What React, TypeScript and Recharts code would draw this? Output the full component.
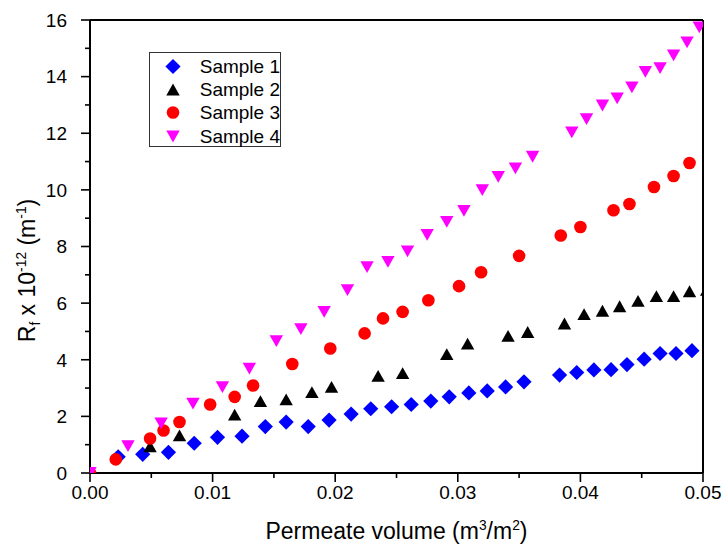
import React from 'react';
import { ScatterChart, Scatter, XAxis, YAxis, Legend } from 'recharts';

// ---------- data ----------
const s1X = [0.0023, 0.0043, 0.0064, 0.0085, 0.0104, 0.0124, 0.0143, 0.016, 0.0178, 0.0195, 0.0213, 0.0229, 0.0246, 0.0262, 0.0278, 0.0293, 0.0309, 0.0324, 0.0339, 0.0354, 0.0383, 0.0397, 0.0411, 0.0425, 0.0438, 0.0452, 0.0465, 0.0478, 0.0491];
const s1Y = [0.57, 0.66, 0.73, 1.05, 1.26, 1.3, 1.64, 1.8, 1.64, 1.87, 2.08, 2.27, 2.34, 2.42, 2.54, 2.69, 2.83, 2.9, 3.04, 3.22, 3.46, 3.55, 3.64, 3.65, 3.83, 4.02, 4.22, 4.22, 4.32];

const s2X = [0.0049, 0.0073, 0.0118, 0.0139, 0.016, 0.0181, 0.0197, 0.0235, 0.0255, 0.0291, 0.0308, 0.0341, 0.0357, 0.0387, 0.0403, 0.0418, 0.0432, 0.0447, 0.0462, 0.0476, 0.0489, 0.0503];
const s2Y = [0.94, 1.33, 2.06, 2.54, 2.6, 2.86, 3.04, 3.43, 3.53, 4.2, 4.57, 4.84, 4.98, 5.28, 5.61, 5.73, 5.89, 6.08, 6.25, 6.25, 6.42, 6.47];

const s3X = [0, 0.0021, 0.0049, 0.006, 0.0073, 0.0098, 0.0118, 0.0133, 0.0165, 0.0196, 0.0224, 0.0239, 0.0255, 0.0276, 0.0301, 0.0319, 0.035, 0.0384, 0.04, 0.0427, 0.044, 0.046, 0.0476, 0.0489];
const s3Y = [0, 0.48, 1.22, 1.5, 1.8, 2.42, 2.69, 3.09, 3.85, 4.4, 4.93, 5.46, 5.69, 6.1, 6.6, 7.09, 7.67, 8.39, 8.69, 9.28, 9.5, 10.1, 10.49, 10.95];

const s4X = [0, 0.0031, 0.0058, 0.0084, 0.0108, 0.013, 0.0152, 0.0172, 0.0191, 0.021, 0.0226, 0.0243, 0.0259, 0.0275, 0.0291, 0.0305, 0.032, 0.0333, 0.0347, 0.0361, 0.0393, 0.0405, 0.0418, 0.043, 0.0442, 0.0453, 0.0465, 0.0476, 0.0487, 0.0497];
const s4Y = [0, 0.95, 1.75, 2.45, 3.03, 3.69, 4.66, 5.08, 5.69, 6.46, 7.27, 7.46, 7.83, 8.41, 8.87, 9.26, 9.99, 10.46, 10.76, 11.17, 12.03, 12.5, 12.98, 13.23, 13.62, 14.17, 14.3, 14.75, 15.21, 15.74];

const seriesNames = ['Sample 1', 'Sample 2', 'Sample 3', 'Sample 4'];
const seriesColors = ['#0000FF', '#000000', '#FF0000', '#FF00FF'];
const seriesShapes = ['diamond', 'triangleUp', 'circle', 'triangleDown'];

const xTickValues = [0, 0.005, 0.01, 0.015, 0.02, 0.025, 0.03, 0.035, 0.04, 0.045, 0.05];
const xTickLabels = ['0.00', '', '0.01', '', '0.02', '', '0.03', '', '0.04', '', '0.05'];
const yTickValues = [0, 1, 2, 3, 4, 5, 6, 7, 8, 9, 10, 11, 12, 13, 14, 15, 16];
const yTickLabels = ['0', '', '2', '', '4', '', '6', '', '8', '', '10', '', '12', '', '14', '', '16'];

const toPoints = (xs: number[], ys: number[]) => xs.map((x, i) => ({ x, y: ys[i] }));
const seriesData = [toPoints(s1X, s1Y), toPoints(s2X, s2Y), toPoints(s3X, s3Y), toPoints(s4X, s4Y)];

// ---------- styling ----------
const FONT = '"Liberation Sans", Arial, sans-serif';
const TICK_FONT = 19;
const TITLE_FONT = 23;
const MAJOR = 9;
const MINOR = 5;
const X_MARGIN = 3;
const Y_MARGIN = 14;

function marker(kind: string, cx: number, cy: number, color: string) {
  if (kind === 'diamond') {
    const h = 7.6;
    return <path d={`M${cx},${cy - h}L${cx + h},${cy}L${cx},${cy + h}L${cx - h},${cy}Z`} fill={color} />;
  }
  if (kind === 'circle') {
    return <circle cx={cx} cy={cy} r={6.3} fill={color} />;
  }
  const w = 6.7;
  const hh = 5.9;
  if (kind === 'triangleUp') {
    return <path d={`M${cx - w},${cy + hh}L${cx + w},${cy + hh}L${cx},${cy - hh}Z`} fill={color} />;
  }
  return <path d={`M${cx - w},${cy - hh}L${cx + w},${cy - hh}L${cx},${cy + hh}Z`} fill={color} />;
}

const makeShape = (kind: string, color: string) => (props: any) => {
  const { cx, cy } = props;
  if (cx == null || cy == null) return <g />;
  return marker(kind, cx, cy, color);
};

const XTick = (props: any) => {
  const { x, y, index } = props;
  const label = xTickLabels[index] ?? '';
  const axisY = y - X_MARGIN - MAJOR;
  const len = label ? MAJOR : MINOR;
  return (
    <g>
      <line x1={x} x2={x} y1={axisY} y2={axisY + len} stroke="#000" strokeWidth={1.6} />
      {label && (
        <text x={x} y={y} dy="0.72em" textAnchor="middle" fontFamily={FONT} fontSize={TICK_FONT} fill="#000">
          {label}
        </text>
      )}
    </g>
  );
};

const YTick = (props: any) => {
  const { x, y, index } = props;
  const label = yTickLabels[index] ?? '';
  const axisX = x + Y_MARGIN + MAJOR;
  const len = label ? MAJOR : MINOR;
  return (
    <g>
      <line x1={axisX - len} x2={axisX} y1={y} y2={y} stroke="#000" strokeWidth={1.6} />
      {label && (
        <text x={x} y={y} dy="0.36em" textAnchor="end" fontFamily={FONT} fontSize={TICK_FONT} fill="#000">
          {label}
        </text>
      )}
    </g>
  );
};

const XTitle = (props: any) => {
  const vb = props.viewBox || { x: 0, y: 0, width: 0, height: 0 };
  const cx = vb.x + vb.width / 2;
  const by = vb.y + 66;
  return (
    <text x={cx} y={by} textAnchor="middle" fontFamily={FONT} fontSize={TITLE_FONT} fill="#000">
      <tspan>Permeate volume (m</tspan>
      <tspan dy={-9} fontSize={TITLE_FONT * 0.6}>3</tspan>
      <tspan dy={9}>/m</tspan>
      <tspan dy={-9} fontSize={TITLE_FONT * 0.6}>2</tspan>
      <tspan dy={9}>)</tspan>
    </text>
  );
};

const YTitle = (props: any) => {
  const vb = props.viewBox || { x: 0, y: 0, width: 0, height: 0 };
  const tx = vb.x + 15;
  const ty = vb.y + vb.height / 2 + 24;
  return (
    <text x={tx} y={ty} textAnchor="middle" fontFamily={FONT} fontSize={TITLE_FONT} fill="#000" transform={`rotate(-90, ${tx}, ${ty})`}>
      <tspan>R</tspan>
      <tspan dy={5} fontSize={TITLE_FONT * 0.6}>f</tspan>
      <tspan dy={-5}> x 10</tspan>
      <tspan dy={-9} fontSize={TITLE_FONT * 0.6}>-12</tspan>
      <tspan dy={9}> (m</tspan>
      <tspan dy={-9} fontSize={TITLE_FONT * 0.6}>-1</tspan>
      <tspan dy={9}>)</tspan>
    </text>
  );
};

const LegendBox = () => (
  <div
    style={{
      border: '1.5px solid #333',
      width: 130,
      height: 91,
      paddingTop: 1.5,
      background: '#fff',
      fontFamily: FONT,
      fontSize: TICK_FONT,
      color: '#000',
      boxSizing: 'content-box',
    }}
  >
    {seriesNames.map((name, i) => (
      <div key={name} style={{ height: 23.3, display: 'flex', alignItems: 'center' }}>
        <svg width={50} height={23} style={{ display: 'block' }}>
          {marker(seriesShapes[i], 23, 11.5, seriesColors[i])}
        </svg>
        <span style={{ lineHeight: '23px', whiteSpace: 'nowrap' }}>{name}</span>
      </div>
    ))}
  </div>
);

export default function App() {
  return (
    <div style={{ position: 'absolute', left: 0, top: 0, width: 722, height: 546, background: '#fff' }}>
      <ScatterChart width={722} height={546} margin={{ top: 19, right: 18, bottom: 23, left: 20 }}>
        <XAxis
          type="number"
          dataKey="x"
          domain={[0, 0.05]}
          ticks={xTickValues}
          interval={0}
          allowDataOverflow
          height={50}
          tickSize={MAJOR}
          tickMargin={X_MARGIN}
          tickLine={false}
          tick={<XTick />}
          axisLine={{ stroke: '#000', strokeWidth: 2 }}
          label={<XTitle />}
        />
        <YAxis
          type="number"
          dataKey="y"
          domain={[0, 16]}
          ticks={yTickValues}
          interval={0}
          allowDataOverflow
          width={70}
          tickSize={MAJOR}
          tickMargin={Y_MARGIN}
          tickLine={false}
          tick={<YTick />}
          axisLine={{ stroke: '#000', strokeWidth: 2 }}
          label={<YTitle />}
        />
        <XAxis
          xAxisId="top"
          orientation="top"
          type="number"
          domain={[0, 0.05]}
          ticks={xTickValues}
          interval={0}
          allowDataOverflow
          height={1}
          tickSize={3}
          tick={false}
          tickLine={{ stroke: '#000', strokeWidth: 1.5 }}
          axisLine={{ stroke: '#000', strokeWidth: 2 }}
        />
        <YAxis
          yAxisId="right"
          orientation="right"
          type="number"
          domain={[0, 16]}
          ticks={yTickValues}
          interval={0}
          allowDataOverflow
          width={1}
          tickSize={3}
          tick={false}
          tickLine={{ stroke: '#000', strokeWidth: 1.5 }}
          axisLine={{ stroke: '#000', strokeWidth: 2 }}
        />
        <Legend
          layout="horizontal"
          verticalAlign="middle"
          align="center"
          content={() => <LegendBox />}
          wrapperStyle={{ left: 149, top: 52, width: 'auto', height: 'auto' }}
        />
        {seriesData.map((d, i) => (
          <Scatter
            key={seriesNames[i]}
            name={seriesNames[i]}
            data={d}
            fill={seriesColors[i]}
            shape={makeShape(seriesShapes[i], seriesColors[i])}
            isAnimationActive={false}
          />
        ))}
      </ScatterChart>
    </div>
  );
}
